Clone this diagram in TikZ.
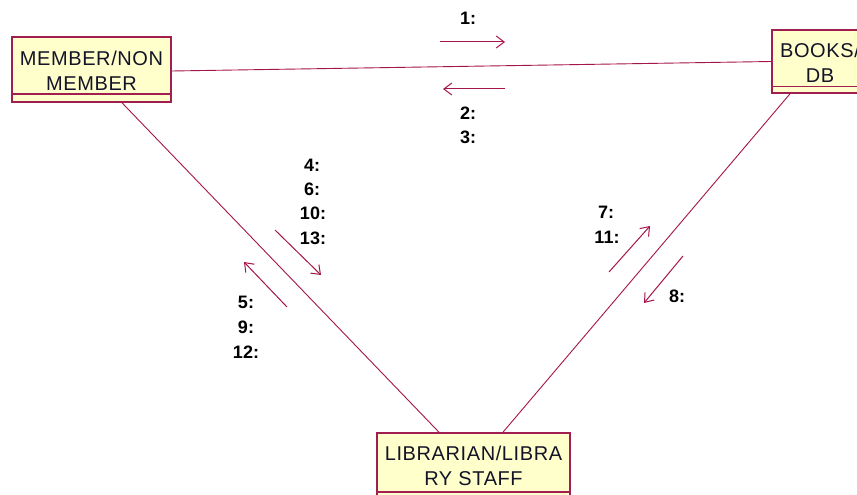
\documentclass[tikz,border=0pt]{standalone}
\usepackage{fontspec}
\setmainfont{Liberation Sans}
\usetikzlibrary{arrows.meta}
\definecolor{rosered}{RGB}{165,20,75}
\definecolor{boxfill}{RGB}{255,255,204}
\definecolor{boxedge}{RGB}{160,30,80}
\definecolor{txt}{RGB}{20,20,40}
\tikzset{
 classbox/.style={draw=boxedge, line width=1.6pt, fill=boxfill, inner sep=0pt, rectangle},
 boxtext/.style={text=txt, font=\fontsize{20}{25}\selectfont\addfontfeatures{LetterSpace=3}, align=center, inner sep=0pt},
 compart/.style={draw=boxedge, line width=1.4pt},
 link/.style={draw=rosered, line width=0.9pt},
 msg/.style={draw=rosered, line width=1pt, -{Straight Barb[length=8pt,width=12pt]}},
 msglabel/.style={text=black, font=\fontsize{18}{20}\selectfont\bfseries, inner sep=0pt},
}
\begin{document}
\begin{tikzpicture}[x=1pt,y=-1pt]
\useasboundingbox (0,0) rectangle (857,495);
\clip (0,0) rectangle (857,495);
\fill[white] (0,0) rectangle (857,495);
% boxes
\node[classbox, minimum width=159pt, minimum height=65pt] (member) at (91.5,69.5) {};
\node[boxtext] (membertext) at (91.5,70.5) {MEMBER/NON\\MEMBER};
\draw[compart] ([yshift=9pt]member.south west) -- ([yshift=9pt]member.south east);
\node[classbox, minimum width=92pt, minimum height=63pt] (books) at (818,61.5) {};
\node[boxtext] (bookstext) at (820,62.5) {BOOKS/\\DB};
\draw[compart] ([yshift=7pt]books.south west) -- ([yshift=7pt]books.south east);
\node[classbox, minimum width=193pt, minimum height=67pt] (lib) at (473.5,466.5) {};
\node[boxtext] (libtext) at (473.5,465.5) {LIBRARIAN/LIBRA\\RY STAFF};
\draw[compart] ([yshift=9pt]lib.south west) -- ([yshift=9pt]lib.south east);
% links
\draw[link] ([yshift=-1.5pt]member.east) -- (books.west);
\draw[link] ([xshift=30.5pt]member.south) -- ([xshift=-34.5pt]lib.north);
\draw[link] ([xshift=-28pt]books.south) -- ([xshift=29.5pt]lib.north);
% messages
\coordinate (m1s) at (440,42); \coordinate (m1e) at (505,42);
\draw[msg] (m1s) -- (m1e);
\node[msglabel] (l1) at (468,18) {1:};
\coordinate (m2s) at (505,89); \coordinate (m2e) at (443,89);
\draw[msg] (m2s) -- (m2e);
\node[msglabel] (l2) at (468,113) {2:};
\node[msglabel] (l3) at (468,137) {3:};
\coordinate (m4s) at (275,230); \coordinate (m4e) at (321,275);
\draw[msg] (m4s) -- (m4e);
\node[msglabel] (l4) at (312,165) {4:};
\node[msglabel] (l6) at (312,189) {6:};
\node[msglabel] (l10) at (313,213) {10:};
\node[msglabel] (l13) at (313,238) {13:};
\coordinate (m5s) at (287,307); \coordinate (m5e) at (244,262);
\draw[msg] (m5s) -- (m5e);
\node[msglabel] (l5) at (246,302) {5:};
\node[msglabel] (l9) at (246,327) {9:};
\node[msglabel] (l12) at (246,352) {12:};
\coordinate (m7s) at (609,272); \coordinate (m7e) at (650,226);
\draw[msg] (m7s) -- (m7e);
\node[msglabel] (l7) at (606,212) {7:};
\node[msglabel] (l11) at (607,237) {11:};
\coordinate (m8s) at (683,256); \coordinate (m8e) at (644,303);
\draw[msg] (m8s) -- (m8e);
\node[msglabel] (l8) at (677,296) {8:};
\end{tikzpicture}
\end{document}
